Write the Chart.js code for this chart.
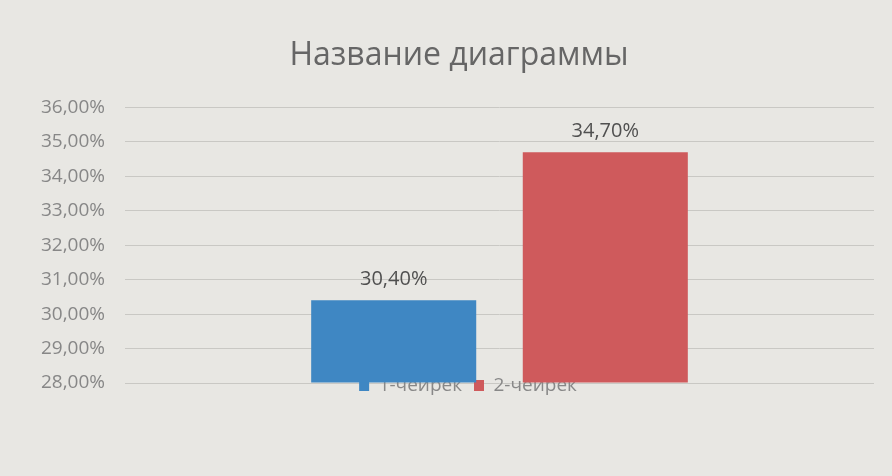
<!DOCTYPE html>
<html>
<head>
<meta charset="utf-8">
<script src="https://cdn.jsdelivr.net/npm/chart.js@4/dist/chart.umd.min.js"></script>
<style>
  html, body { margin: 0; padding: 0; background: #e8e7e3; }
  #wrap { width: 892px; height: 476px; }
</style>
</head>
<body>
<div id="wrap"><canvas id="Chart" width="892" height="476"></canvas></div>
<script>
// chart data
const categories = [""]
const seriesNames = ["1-чейрек", "2-чейрек"]
const q1Values = [30.4]
const q2Values = [34.7]
const yMin = 28
const yMax = 36

// comma decimal like excel ru locale
function pct(v) {
    return v.toFixed(2).replace(".", ",") + "%"
}

// excel puts the legend on the base line and the title a bit off centre
const layoutTweak = {
    id: "layoutTweak",
    afterLayout(chart) {
        const lg = chart.legend
        lg.top -= 19
        lg.bottom -= 19
        lg.left += 21
        lg.right += 21
        const t = chart.titleBlock
        t.left += 12
        t.right += 12
    }
}

// value labels above each bar
const barLabels = {
    id: "barLabels",
    afterDatasetsDraw(chart) {
        const ctx = chart.ctx
        ctx.save()
        ctx.font = "20px 'Open Sans'"
        ctx.fillStyle = "#505050"
        ctx.textAlign = "center"
        ctx.textBaseline = "bottom"
        chart.data.datasets.forEach((ds, i) => {
            chart.getDatasetMeta(i).data.forEach((bar, j) => {
                ctx.fillText(pct(ds.data[j]), bar.x, bar.y - 11)
            })
        })
        ctx.restore()
    }
}

const ctx = document.getElementById("Chart").getContext("2d")
const myChart = new Chart(ctx, {
    type: "bar",
    data: {
        labels: categories,
        datasets: [{
            label: seriesNames[0],
            data: q1Values,
            backgroundColor: "#3f87c3"
        }, {
            label: seriesNames[1],
            data: q2Values,
            backgroundColor: "#cf5a5c"
        }]
    },
    options: {
        responsive: false,
        animation: false,
        datasets: {
            bar: {
                categoryPercentage: 0.565,
                barPercentage: 0.78,
                base: yMin
            }
        },
        layout: {
            padding: { top: 28, left: 20, right: 18, bottom: 52 }
        },
        plugins: {
            title: {
                display: true,
                text: "Название диаграммы",
                color: "#666666",
                font: { family: "'Open Sans'", size: 32, weight: "normal" },
                padding: { top: 9, bottom: 32 }
            },
            legend: {
                position: "bottom",
                labels: {
                    color: "#888888",
                    font: { family: "'Open Sans'", size: 19 },
                    boxWidth: 10,
                    boxHeight: 11,
                    padding: 12
                }
            },
            tooltip: { enabled: false }
        },
        scales: {
            x: { display: false },
            y: {
                min: yMin,
                max: yMax,
                border: { display: false },
                grid: { color: "#c9c8c4", drawTicks: false },
                ticks: {
                    stepSize: 1,
                    padding: 20,
                    color: "#878787",
                    font: { family: "'Open Sans'", size: 19 },
                    callback: (v) => pct(v)
                },
                afterFit(scale) { scale.width = 105 }
            }
        }
    },
    plugins: [layoutTweak, barLabels]
})
</script>
</body>
</html>
